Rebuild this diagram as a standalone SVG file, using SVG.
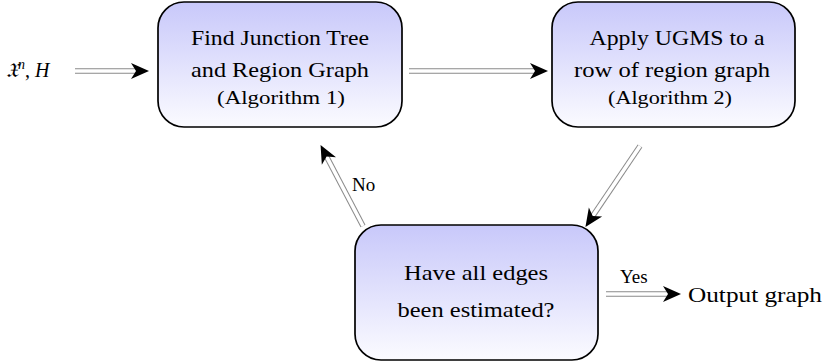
<svg xmlns="http://www.w3.org/2000/svg" width="825" height="364" viewBox="0 0 825 364">
<defs>
<linearGradient id="g" x1="0" y1="0" x2="0" y2="1">
<stop offset="0" stop-color="#c8c8fa"/>
<stop offset="1" stop-color="#fbfbff"/>
</linearGradient>
<marker id="st" markerUnits="userSpaceOnUse" viewBox="-6 -10 24 20" markerWidth="24" markerHeight="20" refX="2" refY="0" orient="auto" overflow="visible">
<path d="M15,0 L-3,-8 L2,0 L-3,8 Z" fill="#000"/>
</marker>
</defs>
<style>
.box{fill:url(#g);stroke:#000;stroke-width:1.7}
.t{fill:#000;text-anchor:middle}
.outer{fill:none;stroke:#8a8a8a;stroke-width:5.6}
.inner{fill:none;stroke:#fff;stroke-width:3.6}
</style>
<g id="input">
<text x="6" y="77" font-family="Liberation Serif, serif" font-size="20"><tspan font-family="DejaVu Serif, serif" font-style="italic">𝔛</tspan><tspan font-style="italic" font-size="14" dy="-8">n</tspan><tspan dy="8">, </tspan><tspan font-style="italic">H</tspan></text>
</g>
<g id="node1" font-family="Liberation Serif, serif">
<rect class="box" x="158" y="2" width="244" height="125" rx="26"/>
<text class="t" font-size="22" x="280" y="45" textLength="178" lengthAdjust="spacingAndGlyphs">Find Junction Tree</text>
<text class="t" font-size="22" x="280" y="77" textLength="178" lengthAdjust="spacingAndGlyphs">and Region Graph</text>
<text class="t" font-size="18" x="281" y="104" textLength="128" lengthAdjust="spacingAndGlyphs">(Algorithm 1)</text>
</g>
<g id="node2" font-family="Liberation Serif, serif">
<rect class="box" x="552" y="2" width="243" height="125" rx="26"/>
<text class="t" font-size="22" x="677" y="45" textLength="175" lengthAdjust="spacingAndGlyphs">Apply UGMS to a</text>
<text class="t" font-size="22" x="672" y="77" textLength="196" lengthAdjust="spacingAndGlyphs">row of region graph</text>
<text class="t" font-size="18" x="670" y="104" textLength="124" lengthAdjust="spacingAndGlyphs">(Algorithm 2)</text>
</g>
<g id="node3" font-family="Liberation Serif, serif">
<rect class="box" x="355" y="225" width="243" height="135" rx="26"/>
<text class="t" font-size="22" x="476" y="280" textLength="144" lengthAdjust="spacingAndGlyphs">Have all edges</text>
<text class="t" font-size="22" x="476" y="317" textLength="157" lengthAdjust="spacingAndGlyphs">been estimated?</text>
</g>
<g id="output" font-family="Liberation Serif, serif">
<text x="688" y="302" font-size="22" textLength="134" lengthAdjust="spacingAndGlyphs">Output graph</text>
</g>
<g id="connectors">
<path class="outer" d="M75,71 L136,71"/><path class="inner" d="M75,71 L136,71" marker-end="url(#st)"/>
<path class="outer" d="M409,71 L535,71"/><path class="inner" d="M409,71 L535,71" marker-end="url(#st)"/>
<path class="outer" d="M363,226 L326.6,156.6"/><path class="inner" d="M363,226 L326.6,156.6" marker-end="url(#st)"/>
<path class="outer" d="M640,146 L592.7,216.1"/><path class="inner" d="M640,146 L592.7,216.1" marker-end="url(#st)"/>
<path class="outer" d="M606,294 L668,294"/><path class="inner" d="M606,294 L668,294" marker-end="url(#st)"/>
<text x="352" y="191" font-family="Liberation Serif, serif" font-size="19">No</text>
<text x="620" y="283" font-family="Liberation Serif, serif" font-size="19">Yes</text>
</g>
</svg>
